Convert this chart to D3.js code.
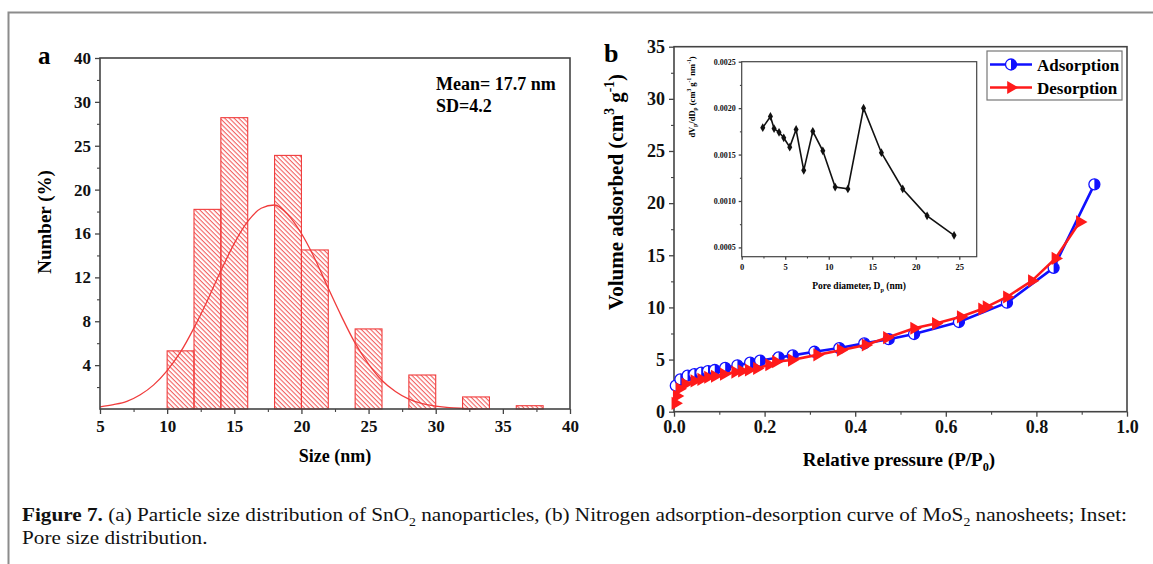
<!DOCTYPE html>
<html>
<head>
<meta charset="UTF-8">
<title>Figure 7</title>
<script src="https://d3js.org/d3.v7.min.js"></script>
<style>
	body { margin: 0; background: #fff; }
	svg text { font-family: "Liberation Serif", "Times New Roman", serif; }
</style>
</head>
<body>
<div id="fig"></div>
<script>
	// (a) size histogram, bins in nm and percentage
	let binLo = [10, 12, 14, 18, 20, 24, 28, 32, 36];
	let binHi = [12, 14, 16, 20, 22, 26, 30, 34, 38];
	let binPct = [5.3, 18.2, 28.2, 23.9, 14.5, 7.3, 3.1, 1.1, 0.3];
	// fitted curve
	let fitX = [5, 6, 7, 8, 9, 10, 11, 12, 13, 14, 15, 16, 17, 18, 19, 20, 21, 22, 23, 24, 25, 26, 27, 28, 29, 30, 31, 32, 33];
	let fitY = [0.2, 0.4, 0.7, 1.3, 2.2, 3.5, 5.2, 7.4, 9.9, 12.6, 15.1, 17.1, 18.3, 18.6, 17.7, 16.0, 13.7, 11.0, 8.4, 6.0, 4.1, 2.6, 1.6, 0.9, 0.5, 0.26, 0.12, 0.06, 0.02];
	let sizeTicks = [5, 10, 15, 20, 25, 30, 35, 40];
	let pctTicks = [4, 8, 12, 16, 20, 25, 30, 40];
	let pctMinor = [2, 6, 10, 14, 18, 22.5, 27.5, 35];

	// (b) N2 isotherm
	let adsP = [0.004, 0.014, 0.03, 0.045, 0.06, 0.075, 0.09, 0.113, 0.14, 0.168, 0.19, 0.231, 0.262, 0.31, 0.365, 0.42, 0.474, 0.53, 0.629, 0.735, 0.838, 0.928];
	let adsV = [2.5, 3.1, 3.45, 3.6, 3.75, 3.9, 4.0, 4.2, 4.45, 4.7, 4.9, 5.2, 5.4, 5.75, 6.1, 6.55, 6.95, 7.45, 8.6, 10.45, 13.8, 21.8];
	let desP = [0.003, 0.006, 0.012, 0.025, 0.045, 0.06, 0.075, 0.09, 0.11, 0.135, 0.15, 0.165, 0.183, 0.21, 0.225, 0.26, 0.316, 0.368, 0.423, 0.47, 0.53, 0.578, 0.633, 0.68, 0.69, 0.735, 0.79, 0.842, 0.896];
	let desV = [0.8, 1.5, 2.2, 2.65, 2.95, 3.1, 3.3, 3.4, 3.6, 3.8, 3.9, 4.0, 4.15, 4.5, 4.8, 4.95, 5.45, 5.9, 6.4, 7.1, 8.0, 8.45, 9.1, 9.85, 10.05, 11.0, 12.55, 14.7, 18.2];
	let pTicks = [0, 0.2, 0.4, 0.6, 0.8, 1.0];
	let pMinor = [0.1, 0.3, 0.5, 0.7, 0.9];
	let vTicks = [0, 5, 10, 15, 20, 25, 30, 35];
	let vMinor = [2.5, 7.5, 12.5, 17.5, 22.5, 27.5, 32.5];

	// inset: pore size distribution
	let poreD = [2.42, 3.3, 3.72, 4.29, 4.83, 5.52, 6.25, 7.13, 8.17, 9.32, 10.74, 12.2, 14.0, 16.05, 18.5, 21.3, 24.4];
	let poreDv = [0.00179, 0.00191, 0.00178, 0.00174, 0.00168, 0.00158, 0.00177, 0.00133, 0.00175, 0.00154, 0.00115, 0.00113, 0.00200, 0.00152, 0.00113, 0.00084, 0.00063];
	let dTicks = [0, 5, 10, 15, 20, 25];
	let dMinor = [2.5, 7.5, 12.5, 17.5, 22.5];
	let dvTicks = [0.0005, 0.0010, 0.0015, 0.0020, 0.0025];
	let dvMinor = [0.00075, 0.00125, 0.00175, 0.00225];

	let width = 1153;
	let height = 564;
	let red = "#ff1a1a";
	let blue = "#1010ff";
	let histRed = "#f03c3c";
	let frameCol = "#444";

	let svg = d3.select("#fig").append("svg")
		.attr("width", width)
		.attr("height", height);

	// hatch for the bars
	let defs = svg.append("defs");
	defs.append("pattern")
		.attr("id", "hatch")
		.attr("patternUnits", "userSpaceOnUse")
		.attr("width", 8)
		.attr("height", 3.3)
		.attr("patternTransform", "rotate(45)")
		.append("line")
		.attr("x1", 0).attr("y1", 0.6).attr("x2", 8).attr("y2", 0.6)
		.attr("stroke", histRed)
		.attr("stroke-width", 0.9);

	// page frame
	svg.append("path")
		.attr("d", "M8.5," + height + "V12.5H" + width)
		.attr("fill", "none")
		.attr("stroke", "#8c8c8c")
		.attr("stroke-width", 2);

	function richText(sel, parts, fs) {
		let cur = 0;
		parts.forEach(p => {
			let t = sel.append("tspan").text(p[0]);
			let target = 0;
			if (p[1] === "sup") { target = -fs * 0.42; t.attr("font-size", fs * 0.65); }
			if (p[1] === "sub") { target = fs * 0.28; t.attr("font-size", fs * 0.65); }
			if (p[1] === "b") t.attr("font-weight", "bold");
			if (target !== cur) t.attr("dy", target - cur);
			cur = target;
		});
	}

	function drawAxis(gen, scale, major, minor, tick, fs, pad, fmt, tx, ty) {
		let g = svg.append("g")
			.attr("transform", "translate(" + tx + "," + ty + ")")
			.call(gen(scale).tickValues(major).tickSize(tick).tickSizeOuter(0).tickPadding(pad).tickFormat(fmt));
		g.attr("font-family", null).attr("font-size", fs).attr("font-weight", "bold");
		g.select(".domain").remove();
		g.selectAll("line").attr("stroke", frameCol).attr("stroke-width", 1.3);
		g.selectAll("text").attr("fill", "#111");
		let m = svg.append("g")
			.attr("transform", "translate(" + tx + "," + ty + ")")
			.call(gen(scale).tickValues(minor).tickSize(tick * 0.6).tickSizeOuter(0).tickFormat(""));
		m.select(".domain").remove();
		m.selectAll("line").attr("stroke", frameCol).attr("stroke-width", 1.1);
	}

	function frame(x0, y0, x1, y1, sw) {
		svg.append("rect")
			.attr("x", x0).attr("y", y0)
			.attr("width", x1 - x0).attr("height", y1 - y0)
			.attr("fill", "none")
			.attr("stroke", frameCol)
			.attr("stroke-width", sw);
	}

	// ---------- panel a ----------
	let aLeft = 100, aRight = 570, aTop = 58, aBottom = 409;
	let step = (aBottom - aTop) / 8;
	let xa = d3.scaleLinear().domain([5, 40]).range([aLeft, aRight]);
	// tick spacing is even, so the scale is piecewise
	let ya = d3.scaleLinear()
		.domain([0, 20, 30, 40])
		.range([aBottom, aBottom - 5 * step, aBottom - 7 * step, aTop]);

	let bins = binLo.map((d, i) => ({ lo: d, hi: binHi[i], v: binPct[i] }));
	svg.selectAll(".bar")
		.data(bins)
		.join("rect")
		.attr("class", "bar")
		.attr("x", d => xa(d.lo))
		.attr("y", d => ya(d.v))
		.attr("width", d => xa(d.hi) - xa(d.lo))
		.attr("height", d => ya(0) - ya(d.v))
		.attr("fill", "url(#hatch)")
		.attr("stroke", histRed)
		.attr("stroke-width", 1.1);

	let fitLine = d3.line()
		.x((d, i) => xa(fitX[i]))
		.y(d => ya(d))
		.curve(d3.curveMonotoneX);
	svg.append("path")
		.attr("d", fitLine(fitY))
		.attr("fill", "none")
		.attr("stroke", histRed)
		.attr("stroke-width", 1.3);

	frame(aLeft, aTop, aRight, aBottom, 1.6);
	drawAxis(d3.axisLeft, ya, pctTicks, pctMinor, 5, 17, 4, d => d, aLeft, 0);
	drawAxis(d3.axisBottom, xa, sizeTicks, [7.5, 12.5, 17.5, 22.5, 27.5, 32.5, 37.5], 5, 17, 6, d => d, 0, aBottom);

	svg.append("text").attr("x", 38).attr("y", 64)
		.attr("font-size", 25).attr("font-weight", "bold").text("a");
	svg.append("text").attr("x", 436).attr("y", 90)
		.attr("font-size", 18).attr("font-weight", "bold").text("Mean= 17.7 nm");
	svg.append("text").attr("x", 436).attr("y", 112)
		.attr("font-size", 18).attr("font-weight", "bold").text("SD=4.2");
	svg.append("text")
		.attr("transform", "translate(51,222) rotate(-90)")
		.attr("text-anchor", "middle")
		.attr("font-size", 19).attr("font-weight", "bold")
		.text("Number (%)");
	svg.append("text")
		.attr("x", 335).attr("y", 462)
		.attr("text-anchor", "middle")
		.attr("font-size", 18).attr("font-weight", "bold")
		.text("Size (nm)");

	// ---------- panel b ----------
	let bLeft = 674, bRight = 1127, bTop = 46.7, bBottom = 411.7;
	let xb = d3.scaleLinear().domain([0, 1]).range([bLeft, bRight]);
	let yb = d3.scaleLinear().domain([0, 35]).range([bBottom, bTop]);

	frame(bLeft, bTop, bRight, bBottom, 1.6);
	drawAxis(d3.axisLeft, yb, vTicks, vMinor, 5, 18, 4, d => d, bLeft, 0);
	drawAxis(d3.axisBottom, xb, pTicks, pMinor, 5, 18, 4, d3.format(".1f"), 0, bBottom);

	svg.append("text").attr("x", 604).attr("y", 62)
		.attr("font-size", 26).attr("font-weight", "bold").text("b");

	let yTitle = svg.append("text")
		.attr("transform", "translate(623,192) rotate(-90)")
		.attr("text-anchor", "middle")
		.attr("font-size", 21).attr("font-weight", "bold");
	richText(yTitle, [["Volume adsorbed (cm"], ["3", "sup"], [" g"], ["-1", "sup"], [")"]], 21);

	let xTitle = svg.append("text")
		.attr("x", 899).attr("y", 466)
		.attr("text-anchor", "middle")
		.attr("font-size", 19).attr("font-weight", "bold");
	richText(xTitle, [["Relative pressure (P/P"], ["0", "sub"], [")"]], 19);

	// inset
	let iLeft = 741.7, iRight = 976.7, iTop = 61.7, iBottom = 256.7;
	let xi = d3.scaleLinear().domain([0, 27]).range([iLeft, iRight]);
	let yi = d3.scaleLinear().domain([0.0004, 0.0025]).range([iBottom, iTop]);

	let poreLine = d3.line().x((d, i) => xi(poreD[i])).y(d => yi(d));
	svg.append("path")
		.attr("d", poreLine(poreDv))
		.attr("fill", "none")
		.attr("stroke", "#111")
		.attr("stroke-width", 1.6);
	svg.selectAll(".pore")
		.data(poreDv)
		.join("path")
		.attr("class", "pore")
		.attr("transform", (d, i) => "translate(" + xi(poreD[i]) + "," + yi(d) + ")")
		.attr("d", d3.symbol(d3.symbolDiamond, 22))
		.attr("fill", "#111");

	frame(iLeft, iTop, iRight, iBottom, 1.2);
	drawAxis(d3.axisLeft, yi, dvTicks, dvMinor, 3, 8, 3, d3.format(".4f"), iLeft, 0);
	drawAxis(d3.axisBottom, xi, dTicks, dMinor, 3, 8.5, 4, d => d, 0, iBottom);

	let iy = svg.append("text")
		.attr("transform", "translate(695,97) rotate(-90)")
		.attr("text-anchor", "middle")
		.attr("font-size", 8.5).attr("font-weight", "bold");
	richText(iy, [["dV"], ["p", "sub"], ["/dD"], ["p", "sub"], [" (cm"], ["3", "sup"], [" g"], ["-1", "sup"], [" nm"], ["-1", "sup"], [")"]], 8.5);
	let ix = svg.append("text")
		.attr("x", 859).attr("y", 289)
		.attr("text-anchor", "middle")
		.attr("font-size", 9.5).attr("font-weight", "bold");
	richText(ix, [["Pore diameter, D"], ["p", "sub"], [" (nm)"]], 9.5);

	// isotherm lines and markers
	let isoLine = d3.line().x(d => xb(d[0])).y(d => yb(d[1]));
	let ads = adsP.map((p, i) => [p, adsV[i]]);
	let des = desP.map((p, i) => [p, desV[i]]);

	function halfCircle(g) {
		g.append("circle").attr("r", 5.5).attr("fill", "#fff").attr("stroke", blue).attr("stroke-width", 1.3);
		g.append("path").attr("d", "M0,-5.5A5.5,5.5 0 0 1 0,5.5Z").attr("fill", blue);
	}
	function triangle(g) {
		g.append("path").attr("d", d3.symbol(d3.symbolTriangle, 75)).attr("transform", "rotate(90)").attr("fill", red);
	}

	svg.append("path").attr("d", isoLine(ads)).attr("fill", "none").attr("stroke", blue).attr("stroke-width", 2.6);
	svg.selectAll(".ads")
		.data(ads)
		.join("g")
		.attr("class", "ads")
		.attr("transform", d => "translate(" + xb(d[0]) + "," + yb(d[1]) + ")")
		.each(function () { halfCircle(d3.select(this)); });

	svg.append("path").attr("d", isoLine(des)).attr("fill", "none").attr("stroke", red).attr("stroke-width", 2.6);
	svg.selectAll(".des")
		.data(des)
		.join("g")
		.attr("class", "des")
		.attr("transform", d => "translate(" + xb(d[0]) + "," + yb(d[1]) + ")")
		.each(function () { triangle(d3.select(this)); });

	// legend
	let lg = svg.append("g");
	lg.append("rect").attr("x", 987).attr("y", 51).attr("width", 135).attr("height", 49)
		.attr("fill", "#fff").attr("stroke", "#777").attr("stroke-width", 1.2);
	let legendItems = [["Adsorption", blue, halfCircle, 64.5], ["Desorption", red, triangle, 87.5]];
	legendItems.forEach(it => {
		lg.append("line").attr("x1", 990).attr("x2", 1032).attr("y1", it[3]).attr("y2", it[3])
			.attr("stroke", it[1]).attr("stroke-width", 2.6);
		it[2](lg.append("g").attr("transform", "translate(1011," + it[3] + ")"));
		lg.append("text").attr("x", 1037).attr("y", it[3] + 6)
			.attr("font-size", 17).attr("font-weight", "bold").text(it[0]);
	});

	// caption
	let cap1 = svg.append("text").attr("x", 0).attr("y", 0).attr("font-size", 18).attr("fill", "#111");
	richText(cap1, [["Figure 7.", "b"], [" (a) Particle size distribution of SnO"], ["2", "sub"], [" nanoparticles, (b) Nitrogen adsorption-desorption curve of MoS"], ["2", "sub"], [" nanosheets; Inset:"]], 18);
	let cap2 = svg.append("text").attr("x", 0).attr("y", 0).attr("font-size", 18).attr("fill", "#111")
		.text("Pore size distribution.");
	let sx = (1128 - 22) / cap1.node().getComputedTextLength();
	cap1.attr("transform", "translate(22,521) scale(" + sx + ",1)");
	cap2.attr("transform", "translate(22,544) scale(" + sx + ",1)");
</script>
</body>
</html>
